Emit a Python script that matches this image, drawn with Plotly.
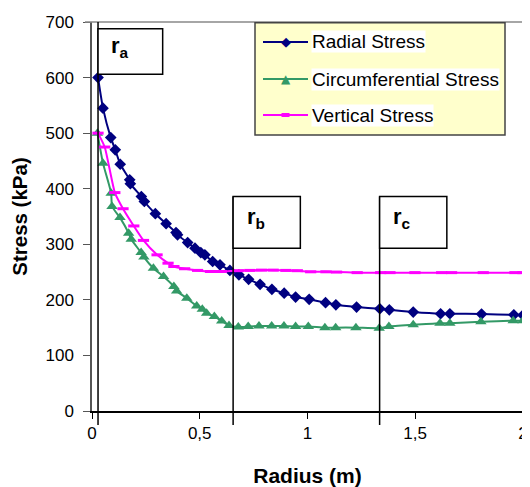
import plotly.graph_objects as go

# ---- data ----
radial_x = [0.028, 0.051, 0.087, 0.108, 0.131, 0.175, 0.178, 0.229, 0.243, 0.294, 0.344, 0.39, 0.397,
            0.444, 0.478, 0.505, 0.524, 0.56, 0.594, 0.64, 0.682, 0.727, 0.78, 0.835, 0.892, 0.945,
            1.008, 1.084, 1.132, 1.228, 1.336, 1.38, 1.491, 1.618, 1.661, 1.808, 1.958, 2.0]
radial_y = [600, 545, 492, 470, 444, 416, 409, 386, 377, 355, 337, 321, 317,
            303, 293, 285, 281, 269, 263, 253, 245, 237, 228, 219, 212, 205,
            201, 195, 191, 187, 184, 182, 178, 175, 175, 174.5, 173, 172.5]

circ_x = [0.025, 0.051, 0.089, 0.093, 0.13, 0.17, 0.182, 0.228, 0.241, 0.285, 0.332, 0.38, 0.393,
          0.44, 0.486, 0.512, 0.532, 0.568, 0.602, 0.636, 0.679, 0.725, 0.775, 0.834, 0.891, 0.945,
          1.004, 1.081, 1.131, 1.225, 1.333, 1.378, 1.491, 1.615, 1.661, 1.805, 1.955, 2.0]
circ_y = [500, 446, 392, 368, 348, 320, 309, 285, 277, 257, 242, 224, 216,
          203, 189, 183, 176, 170, 162, 154, 151, 152, 153, 153, 153, 152,
          152, 150, 150, 150, 149, 152, 155, 158, 158, 160.5, 162.5, 162.5]

vert_x = [0.028, 0.059, 0.106, 0.144, 0.194, 0.239, 0.302, 0.353, 0.38, 0.43, 0.49, 0.55, 0.6,
          0.679, 0.733, 0.787, 0.841, 0.9, 0.953, 1.015, 1.086, 1.135, 1.231, 1.34, 1.383, 1.499,
          1.623, 1.669, 1.816, 1.963, 2.0]
vert_y = [500, 475, 393, 364, 333, 307, 281, 266, 260, 256, 253, 251, 251,
          252.5, 253, 253.5, 253.5, 253, 252.5, 250.5, 250.5, 250, 249, 249, 249, 249,
          249, 249, 249, 249, 249]

series_names = ["Radial Stress", "Circumferential Stress", "Vertical Stress"]
series_colors = ["#000080", "#339966", "#FF00FF"]

x_ticks = [0, 0.5, 1, 1.5, 2]
x_ticktext = ["0", "0,5", "1", "1,5", "2"]
y_ticks = [0, 100, 200, 300, 400, 500, 600, 700]

# radius markers
r_a, r_b, r_c = 0.028, 0.655, 1.335
FONT = "Liberation Sans"

# page geometry: the browser body adds an 8px margin, so the figure is 8px smaller
OFF = 8
W, H = 530 - OFF, 487 - OFF
PLOT_L, PLOT_R, PLOT_T, PLOT_B = 92, 523, 22, 411          # page pixels of the plot area
ML, MR, MT, MB = PLOT_L - OFF, 530 - PLOT_R, PLOT_T - OFF, 487 - PLOT_B
PW, PH = PLOT_R - PLOT_L, PLOT_B - PLOT_T


def px(xpage):
    return (xpage - PLOT_L) / PW


def py(ypage):
    return (PLOT_B - ypage) / PH


fig = go.Figure()
fig.add_trace(go.Scatter(x=radial_x, y=radial_y, name=series_names[0], mode="lines+markers",
                         line=dict(color=series_colors[0], width=2, shape="spline", smoothing=0.5),
                         marker=dict(symbol="diamond", size=9, color=series_colors[0])))
fig.add_trace(go.Scatter(x=circ_x, y=circ_y, name=series_names[1], mode="lines+markers",
                         line=dict(color=series_colors[1], width=2, shape="spline", smoothing=0.5),
                         marker=dict(symbol="triangle-up", size=10, color=series_colors[1])))
fig.add_trace(go.Scatter(x=vert_x, y=vert_y, name=series_names[2], mode="lines+markers",
                         line=dict(color=series_colors[2], width=2, shape="spline", smoothing=0.5),
                         marker=dict(symbol="line-ew", size=8, color=series_colors[2],
                                     line=dict(color=series_colors[2], width=3))))

shapes = []
annotations = []
# frame top/right (grey)
shapes.append(dict(type="line", xref="paper", yref="paper", x0=px(85), x1=px(525), y0=1, y1=1,
                   line=dict(color="#888888", width=1.5)))
shapes.append(dict(type="line", xref="paper", yref="paper", x0=px(525), x1=px(525), y0=0, y1=1,
                   line=dict(color="#888888", width=1.5)))
ybot = py(425)
# r_a line (full height) and box
shapes.append(dict(type="line", xref="x", yref="paper", x0=r_a, x1=r_a, y0=ybot, y1=1,
                   line=dict(color="black", width=1.5)))
shapes.append(dict(type="rect", xref="x", yref="y", x0=r_a, x1=0.328, y0=606, y1=688,
                   line=dict(color="black", width=1.5), fillcolor="white"))
# r_b, r_c lines and boxes
for r in (r_b, r_c):
    shapes.append(dict(type="line", xref="x", yref="paper", x0=r, x1=r, y0=ybot, y1=386 / 700,
                       line=dict(color="black", width=1.5)))
    shapes.append(dict(type="rect", xref="x", yref="y", x0=r, x1=r + 0.312, y0=293, y1=386,
                       line=dict(color="black", width=1.5), fillcolor="white"))

for xa, ya, sub in [(0.13, 655, "a"), (r_b + 0.105, 348, "b"), (r_c + 0.105, 348, "c")]:
    annotations.append(dict(x=xa, y=ya, xref="x", yref="y", text=f"<b>r<sub>{sub}</sub></b>",
                            showarrow=False, font=dict(family=FONT, size=22, color="black")))

# ---- hand-made legend (Excel style) ----
shapes.append(dict(type="rect", xref="paper", yref="paper", x0=px(255), x1=px(505),
                   y0=py(135), y1=py(22.7), fillcolor="#FFFFCC",
                   line=dict(color="#444444", width=1.5)))
row_y = [42, 79, 115]
glyphs = [("\u25C6", 13), ("\u25B2", 12), (None, 0)]
for i, (name, col) in enumerate(zip(series_names, series_colors)):
    yy = py(row_y[i])
    shapes.append(dict(type="line", xref="paper", yref="paper", x0=px(263), x1=px(308),
                       y0=yy, y1=yy, line=dict(color=col, width=2)))
    g, gs = glyphs[i]
    if g:
        annotations.append(dict(x=px(285.5), y=yy, xref="paper", yref="paper", text=g,
                                showarrow=False, xanchor="center", yanchor="middle",
                                font=dict(family="DejaVu Sans", size=gs, color=col)))
    else:
        shapes.append(dict(type="line", xref="paper", yref="paper", x0=px(281.5), x1=px(289.5),
                           y0=yy, y1=yy, line=dict(color=col, width=4)))
    annotations.append(dict(x=px(311), y=yy, xref="paper", yref="paper", text=name,
                            showarrow=False, xanchor="left", yanchor="middle",
                            bgcolor="white", borderpad=0,
                            font=dict(family=FONT, size=19, color="black")))

fig.update_layout(
    template="none",
    width=W, height=H,
    margin=dict(l=ML, r=MR, t=MT, b=MB, autoexpand=False),
    paper_bgcolor="white", plot_bgcolor="white",
    separators=", ",
    font=dict(family=FONT, size=17, color="black"),
    showlegend=False,
    shapes=shapes,
    annotations=annotations,
)
fig.update_xaxes(range=[0, 2.0005], tickvals=x_ticks, ticktext=x_ticktext, ticks="outside",
                 ticklen=6, tickcolor="black", automargin=False,
                 showline=True, linecolor="black", linewidth=1.5, showgrid=False, zeroline=False,
                 ticklabeloverflow="allow", ticklabelstandoff=0,
                 title=dict(text="<b>Radius (m)</b>", font=dict(family=FONT, size=21), standoff=26),
                 tickfont=dict(family=FONT, size=17))
fig.update_yaxes(range=[0, 700], tickvals=y_ticks, ticks="outside", ticklen=7, tickcolor="#555555",
                 automargin=False,
                 showline=True, linecolor="#555555", linewidth=1.5, showgrid=False, zeroline=False,
                 ticklabelstandoff=6,
                 title=dict(text="<b>Stress (kPa)</b>", font=dict(family=FONT, size=20.5), standoff=13),
                 tickfont=dict(family=FONT, size=17))

fig.write_html("out.html")
